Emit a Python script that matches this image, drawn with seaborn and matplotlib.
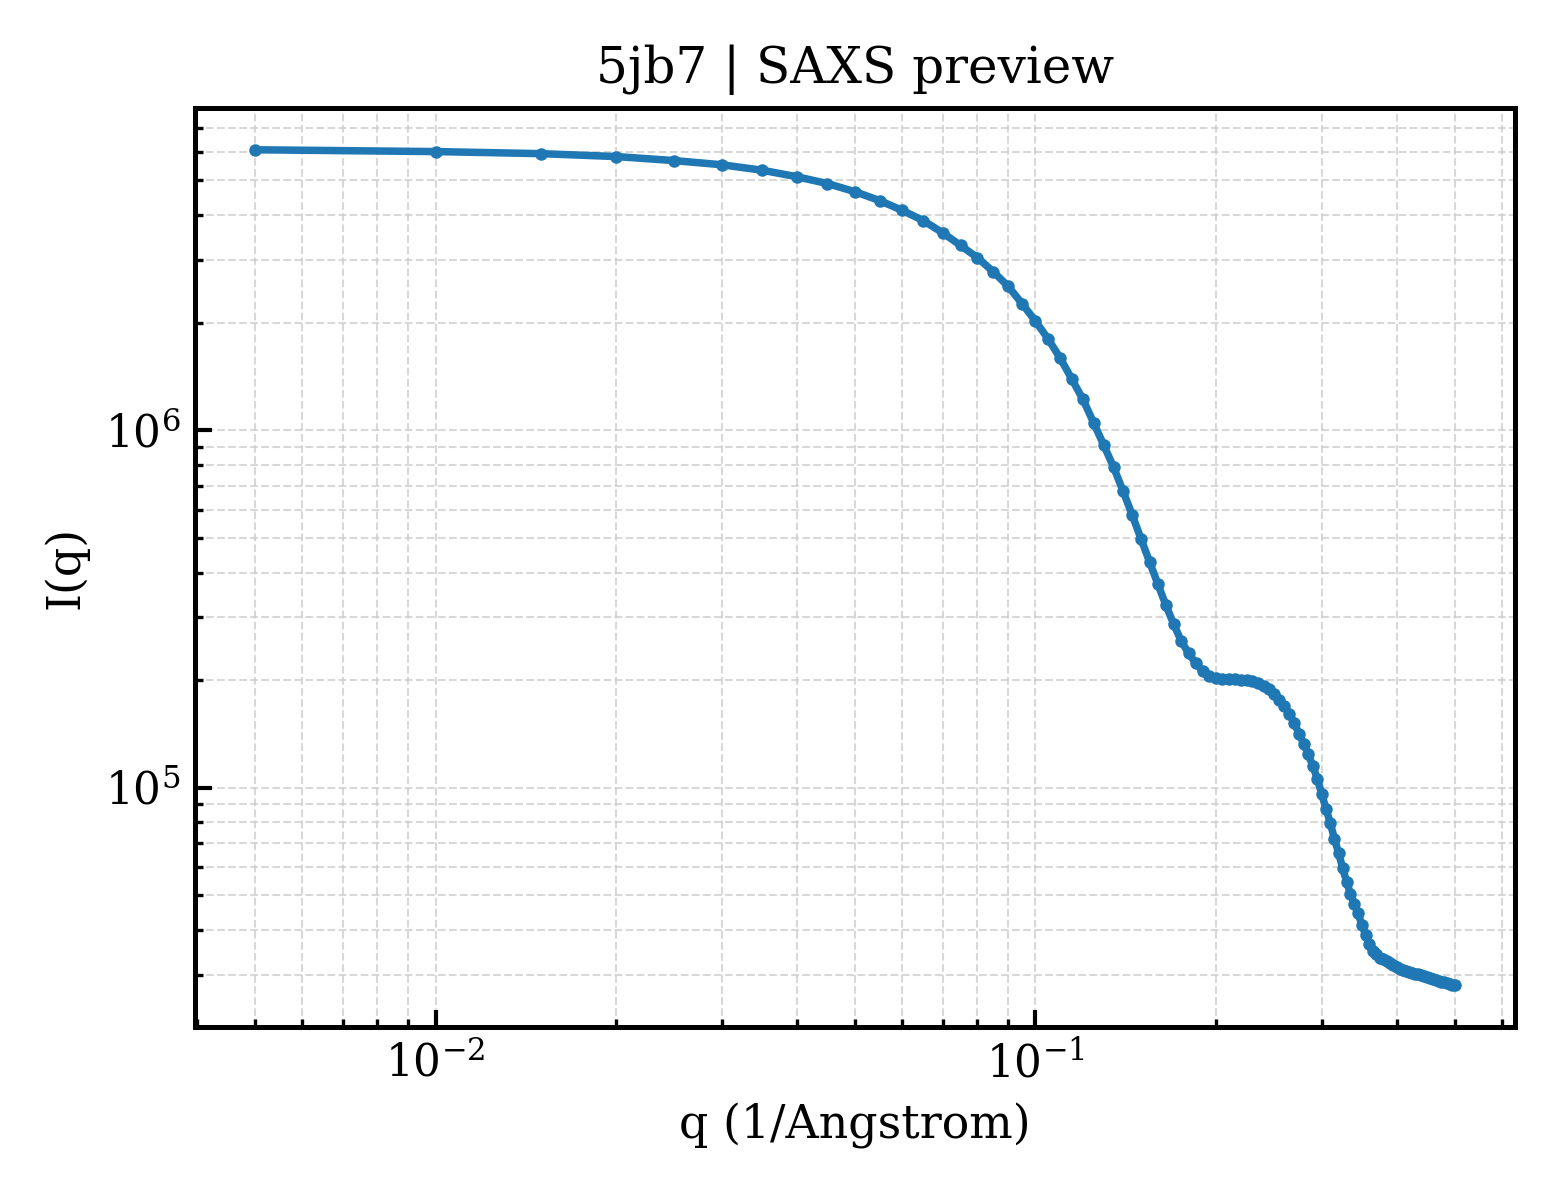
import numpy as np
import pandas as pd
import seaborn as sns
import matplotlib
matplotlib.use("Agg")
import matplotlib.pyplot as plt

# SAXS profile, q step 0.005 1/Angstrom
q_values = [round(0.005 * i, 3) for i in range(1, 101)]
intensity = [
    6.09e6, 6.02e6, 5.94e6, 5.83e6, 5.68e6, 5.53e6, 5.34e6, 5.12e6, 4.90e6, 4.65e6,
    4.39e6, 4.12e6, 3.86e6, 3.57e6, 3.29e6, 3.04e6, 2.78e6, 2.53e6, 2.26e6, 2.02e6,
    1.80e6, 1.59e6, 1.39e6, 1.22e6, 1.05e6, 9.08e5, 7.88e5, 6.75e5, 5.79e5, 4.96e5,
    4.28e5, 3.71e5, 3.24e5, 2.87e5, 2.57e5, 2.38e5, 2.23e5, 2.12e5, 2.055e5, 2.03e5,
    2.02e5, 2.02e5, 2.015e5, 2.005e5, 2.00e5, 1.99e5, 1.965e5, 1.93e5, 1.89e5, 1.83e5,
    1.76e5, 1.69e5, 1.61e5, 1.52e5, 1.415e5, 1.33e5, 1.24e5, 1.15e5, 1.06e5, 9.62e4,
    8.73e4, 7.98e4, 7.20e4, 6.58e4, 5.98e4, 5.46e4, 5.06e4, 4.74e4, 4.45e4, 4.14e4,
    3.88e4, 3.66e4, 3.50e4, 3.42e4, 3.35e4, 3.31e4, 3.28e4, 3.24e4, 3.20e4, 3.15e4,
    3.12e4, 3.10e4, 3.08e4, 3.06e4, 3.04e4, 3.02e4, 3.005e4, 2.99e4, 2.97e4, 2.955e4,
    2.94e4, 2.92e4, 2.90e4, 2.89e4, 2.87e4, 2.86e4, 2.84e4, 2.83e4, 2.81e4, 2.80e4,
]
pdb_id = "5jb7"

df = pd.DataFrame({"q": q_values, "I": intensity})

plt.rcParams["font.family"] = ["DejaVu Serif"]
plt.rcParams["axes.linewidth"] = 1.2

fig, ax = plt.subplots(figsize=(5.2, 4), dpi=300)
sns.lineplot(data=df, x="q", y="I", ax=ax, color="#1f77b4",
             linewidth=1.8, marker="o", markersize=3, markeredgewidth=0)
ax.set_xscale("log")
ax.set_yscale("log")

ax.set_title(f"{pdb_id} | SAXS preview", fontsize=12)
ax.set_xlabel("q (1/Angstrom)", fontsize=11)
ax.set_ylabel("I(q)", fontsize=11)
ax.tick_params(which="both", direction="in", labelsize=10.5)
ax.tick_params(which="major", length=4, width=1)
ax.tick_params(which="minor", length=2, width=0.8)
ax.grid(True, which="both", linestyle="--", linewidth=0.5, color="#cccccc", alpha=0.75)

fig.subplots_adjust(left=0.125, right=0.971, top=0.91, bottom=0.144)
fig.savefig("out.png", dpi=300)
